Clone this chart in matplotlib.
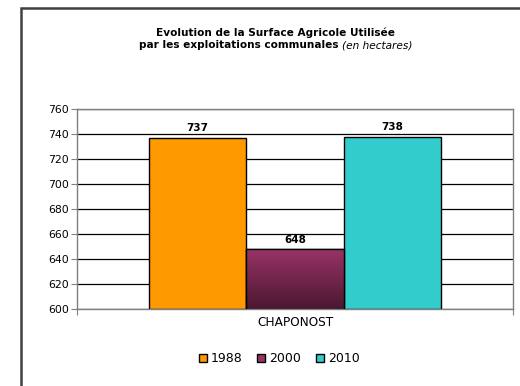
import matplotlib
matplotlib.use("Agg")
import matplotlib.pyplot as plt
import numpy as np
from matplotlib.patches import Patch, Rectangle
from matplotlib.colors import LinearSegmentedColormap

plt.rcParams['font.family'] = ['DejaVu Sans']

category = "CHAPONOST"
years = ["1988", "2000", "2010"]
values = [737, 648, 738]
colors = ["#FF9900", "#993366", "#33CCCC"]
yticks = [600, 620, 640, 660, 680, 700, 720, 740, 760]

W, H = 520, 386
fig = plt.figure(figsize=(W/100, H/100), dpi=100)
fig.patch.set_facecolor("white")

# outer frame
fig.patches.append(Rectangle((21/W, -0.05), 1.2, 1 - 8/H + 0.05, transform=fig.transFigure,
                             fill=False, edgecolor="#404040", linewidth=1.8, zorder=0))

ax = fig.add_axes([77/W, 1 - 309/H, (513-77)/W, 200/H])
ax.set_ylim(600, 760)
ax.set_xlim(-0.5, 0.5)
ax.set_yticks(yticks)
ax.set_yticklabels([str(t) for t in yticks], fontsize=7.8)
ax.yaxis.grid(True, color="black", linewidth=0.9)
ax.set_axisbelow(True)
for s in ax.spines.values():
    s.set_color("#808080")
    s.set_linewidth(1.0)
ax.tick_params(axis='y', length=4, color="#808080", pad=2)
ax.set_xticks([-0.5, 0.5])
ax.set_xticklabels(["", ""])
ax.tick_params(axis='x', length=4, color="#808080")
ax.text(0, -0.035, category, transform=ax.get_xaxis_transform(), ha="center", va="top", fontsize=8.7)

bw = 0.2233
offsets = [-bw, 0, bw]
bars = []
for off, v, c in zip(offsets, values, colors):
    b = ax.bar(off, v - 600, bottom=600, width=bw, color=c, edgecolor="black", linewidth=1.0, zorder=2)
    bars.append(b[0])
    ax.text(off, v + 3.5, str(v), ha="center", va="bottom", fontsize=7.5, fontweight="bold", zorder=4)

# gradient on purple bar
pb = bars[1]
cmap = LinearSegmentedColormap.from_list("g", ["#4a1830", "#993366"])
grad = np.linspace(0, 1, 256).reshape(-1, 1)
x0 = pb.get_x(); y0 = pb.get_y()
im = ax.imshow(grad, extent=[x0, x0 + pb.get_width(), y0, y0 + pb.get_height()],
               origin="lower", cmap=cmap, aspect="auto", zorder=2.5)
im.set_clip_path(pb)
ax.add_patch(Rectangle((x0, y0), pb.get_width(), pb.get_height(), fill=False,
                       edgecolor="black", linewidth=1.0, zorder=3))
ax.set_xlim(-0.5, 0.5)
ax.set_ylim(600, 760)

# title
fig.text(275/W, 1 - 33/H, "Evolution de la Surface Agricole Utilisée", ha="center", va="center",
         fontsize=7.6, fontweight="bold")
fig.canvas.draw()
r = fig.canvas.get_renderer()
t1 = fig.text(0, 1 - 45/H, "par les exploitations communales ", ha="left", va="center",
              fontsize=7.6, fontweight="bold")
t2 = fig.text(0, 1 - 45/H, "(en hectares)", ha="left", va="center", fontsize=7.6, style="italic")
w1 = t1.get_window_extent(r).width
w2 = t2.get_window_extent(r).width
start = 276 - (w1 + w2) / 2
t1.set_x(start / W)
t2.set_x((start + w1) / W)

handles = [Patch(facecolor=c, edgecolor="black", linewidth=1.0) for c in colors]
fig.legend(handles, years, loc="center", bbox_to_anchor=(279/W, 1 - 359/H), ncol=3,
           frameon=False, fontsize=9, handlelength=0.65, handleheight=0.65,
           handletextpad=0.3, columnspacing=1.2)

fig.savefig("out.png", dpi=100)
